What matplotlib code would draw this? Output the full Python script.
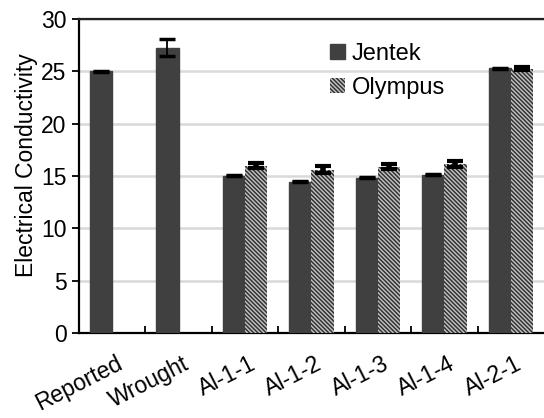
import numpy as np
import matplotlib.pyplot as plt

plt.rcParams['font.family'] = ['Liberation Sans', 'DejaVu Sans']
plt.rcParams['hatch.linewidth'] = 1.1
plt.rcParams['hatch.color'] = '#333333'

categories = ["Reported", "Wrought", "Al-1-1", "Al-1-2", "Al-1-3", "Al-1-4", "Al-2-1"]
jentek = [25.0, 27.25, 15.03, 14.47, 14.85, 15.1, 25.28]
jentek_err = [0.03, 0.8, 0.05, 0.05, 0.05, 0.05, 0.05]
olympus = [np.nan, np.nan, 15.98, 15.6, 15.9, 16.12, 25.22]
olympus_err = [np.nan, np.nan, 0.25, 0.35, 0.2, 0.3, 0.15]

fig = plt.figure(figsize=(5.44, 4.18), dpi=100)
ax = fig.add_axes([0.145, 0.203, 0.855, 0.752])

x = np.arange(len(categories))
w = 0.335
ekw = dict(elinewidth=1.3, capthick=2.5, capsize=5.5, ecolor='black')
ekw2 = dict(elinewidth=4, capthick=3, capsize=5.5, ecolor='black')
ax.bar(x - w / 2, jentek, w, yerr=jentek_err, color='#404040', edgecolor='#404040',
       error_kw=ekw, label='Jentek', zorder=3)
ax.bar(x + w / 2, olympus, w, yerr=olympus_err, color='#c4c4c4', edgecolor='#333333',
       hatch='\\\\\\\\\\\\\\\\', linewidth=0, error_kw=ekw2, label='Olympus', zorder=3)

ax.set_xlim(-0.5, len(categories) - 0.5)
ax.set_ylim(0, 30)
ax.set_yticks(range(0, 31, 5))
ax.yaxis.grid(True, color='#d9d9d9', linewidth=1.8, zorder=0)
ax.set_axisbelow(True)

ax.set_xticks(x[:-1] + 0.5)
ax.set_xticklabels([])
ax.tick_params(axis='x', direction='in', length=5, width=1.3)
ax.tick_params(axis='y', direction='out', length=5, width=1.3, labelsize=16.5, pad=4)
for xi, lab in zip(x, categories):
    ax.text(xi + 0.06, -1.8, lab, rotation=27, ha='right', va='top', fontsize=16.5,
            rotation_mode='anchor')

for s in ['left', 'bottom', 'top']:
    ax.spines[s].set_linewidth(1.6)
ax.spines['top'].set_color('#222222')
ax.spines['right'].set_visible(False)

ax.set_ylabel("Electrical Conductivity", fontsize=16.5)
ax.yaxis.set_label_coords(-0.088, 0.535)

ax.legend(loc='upper left', bbox_to_anchor=(0.495, 0.99), frameon=False, fontsize=17,
          handlelength=0.6, handleheight=0.6, handletextpad=0.3, labelspacing=0.5)

fig.savefig("out.png", dpi=100)
